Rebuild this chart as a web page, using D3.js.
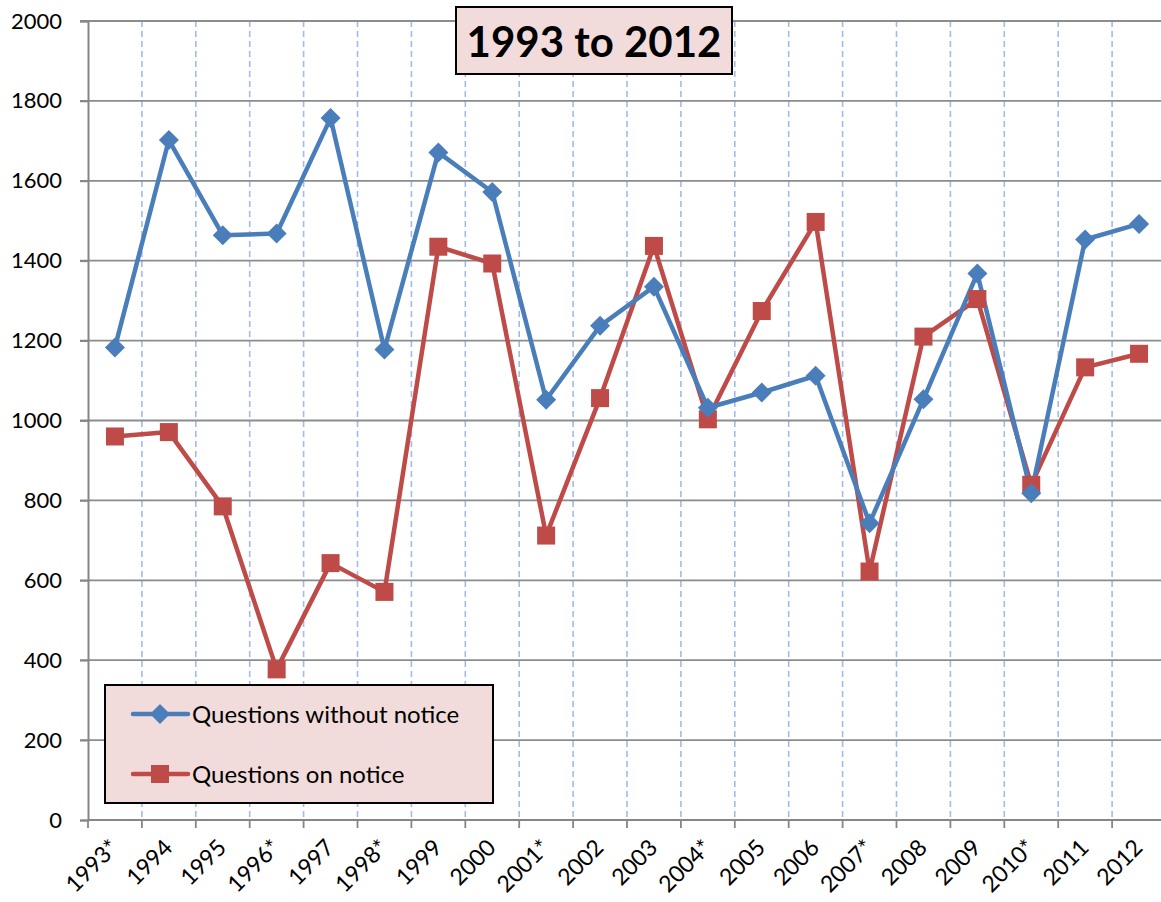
<!DOCTYPE html>
<html>
<head>
<meta charset="utf-8">
<script src="https://cdn.jsdelivr.net/npm/d3@7"></script>
<style>
  html, body { margin: 0; padding: 0; background: #fff; }
  svg { display: block; }
  text { font-family: Lato, "Open Sans", sans-serif; }
</style>
</head>
<body>
<svg id="chart" width="1161" height="902"></svg>
<script>
const categories = ["1993*","1994","1995","1996*","1997","1998*","1999","2000","2001*","2002","2003","2004*","2005","2006","2007*","2008","2009","2010*","2011","2012"];
const withoutNotice = [1183,1702,1464,1468,1757,1178,1671,1572,1052,1237,1335,1032,1070,1112,743,1053,1368,818,1453,1492];
const onNotice = [960,971,785,377,643,571,1435,1393,712,1056,1437,1003,1274,1497,622,1210,1304,839,1133,1167];
const yTicks = [0,200,400,600,800,1000,1200,1400,1600,1800,2000];
const seriesNames = ["Questions without notice","Questions on notice"];
const titleText = "1993 to 2012";

const blue = "#4a7ebb", red = "#be4b48";
const mLeft = 88, mTop = 21, mBottom = 820, mRight = 88 + 53.9 * 20;

const svg = d3.select("#chart");
const x = d3.scaleBand().domain(categories).range([mLeft, mRight]).padding(0);
const y = d3.scaleLinear().domain([0, 2000]).range([mBottom, mTop]);

// vertical dashed gridlines at category boundaries
const bounds = categories.slice(1).map(c => x(c));
svg.append("g").selectAll("line").data(bounds).join("line")
  .attr("x1", d => d).attr("x2", d => d)
  .attr("y1", mTop).attr("y2", mBottom)
  .attr("stroke", "#9fbcec").attr("stroke-width", 1.6)
  .attr("stroke-dasharray", "6,4");

// horizontal gridlines
svg.append("g").selectAll("line").data(yTicks.filter(d => d > 0)).join("line")
  .attr("x1", mLeft - 8).attr("x2", 1161)
  .attr("y1", d => y(d)).attr("y2", d => y(d))
  .attr("stroke", "#8c8c8c").attr("stroke-width", 1.8);

// y axis
const yAxis = d3.axisLeft(y).tickValues(yTicks).tickSize(8).tickPadding(18).tickFormat(d3.format("d"));
const gy = svg.append("g").attr("transform", `translate(${mLeft},0)`).call(yAxis);
gy.select(".domain").attr("stroke", "#868686").attr("stroke-width", 2);
gy.selectAll(".tick line").attr("stroke", "#868686").attr("stroke-width", 1.8);
gy.selectAll(".tick text").attr("font-size", 22).attr("fill", "#000")
  .attr("font-family", "Lato, sans-serif");

// x axis line
svg.append("line").attr("x1", mLeft).attr("x2", 1161).attr("y1", mBottom).attr("y2", mBottom)
  .attr("stroke", "#868686").attr("stroke-width", 2);
// x ticks at boundaries
const tickPos = [mLeft].concat(bounds);
svg.append("g").selectAll("line").data(tickPos).join("line")
  .attr("x1", d => d).attr("x2", d => d).attr("y1", mBottom).attr("y2", mBottom + 8)
  .attr("stroke", "#868686").attr("stroke-width", 1.8);

// x labels
svg.append("g").selectAll("text").data(categories).join("text")
  .attr("transform", d => `translate(${x(d) + x.bandwidth()/2 + 5},${mBottom + 29}) rotate(-45)`)
  .attr("text-anchor", "end")
  .attr("font-size", 23).attr("fill", "#000")
  .text(d => d);

// lines
const line = d3.line().x((d, i) => x(categories[i]) + x.bandwidth()/2).y(d => y(d));
svg.append("path").datum(onNotice).attr("d", line)
  .attr("fill", "none").attr("stroke", red).attr("stroke-width", 4.5).attr("stroke-linejoin", "round");
svg.append("path").datum(withoutNotice).attr("d", line)
  .attr("fill", "none").attr("stroke", blue).attr("stroke-width", 4.5).attr("stroke-linejoin", "round");

// markers
const diamond = s => `M0,${-s}L${s},0L0,${s}L${-s},0Z`;
svg.append("g").selectAll("rect").data(onNotice).join("rect")
  .attr("x", (d, i) => x(categories[i]) + x.bandwidth()/2 - 9)
  .attr("y", d => y(d) - 9).attr("width", 18).attr("height", 18)
  .attr("fill", red);
svg.append("g").selectAll("path").data(withoutNotice).join("path")
  .attr("transform", (d, i) => `translate(${x(categories[i]) + x.bandwidth()/2},${y(d)})`)
  .attr("d", diamond(10)).attr("fill", blue);

// title box
const tg = svg.append("g");
tg.append("rect").attr("x", 456).attr("y", 7).attr("width", 276).attr("height", 67)
  .attr("fill", "#f2dcdb").attr("stroke", "#000").attr("stroke-width", 2);
tg.append("text").attr("x", 594).attr("y", 57).attr("text-anchor", "middle")
  .attr("font-size", 42).attr("font-weight", "bold").attr("fill", "#000").text(titleText);

// legend
const lg = svg.append("g");
lg.append("rect").attr("x", 105).attr("y", 685).attr("width", 388).attr("height", 118)
  .attr("fill", "#f2dcdb").attr("stroke", "#000").attr("stroke-width", 2);
const items = [{name: seriesNames[0], color: blue, type: "d", yy: 714},
               {name: seriesNames[1], color: red, type: "s", yy: 774}];
items.forEach(it => {
  lg.append("line").attr("x1", 133).attr("x2", 188).attr("y1", it.yy).attr("y2", it.yy)
    .attr("stroke", it.color).attr("stroke-width", 4.5).attr("stroke-linecap", "round");
  if (it.type === "d") {
    lg.append("path").attr("transform", `translate(160,${it.yy})`).attr("d", diamond(10)).attr("fill", it.color);
  } else {
    lg.append("rect").attr("x", 151).attr("y", it.yy - 9).attr("width", 18).attr("height", 18).attr("fill", it.color);
  }
  lg.append("text").attr("x", 192).attr("y", it.yy + 9).attr("font-size", 24).attr("fill", "#000").text(it.name);
});
</script>
</body>
</html>
